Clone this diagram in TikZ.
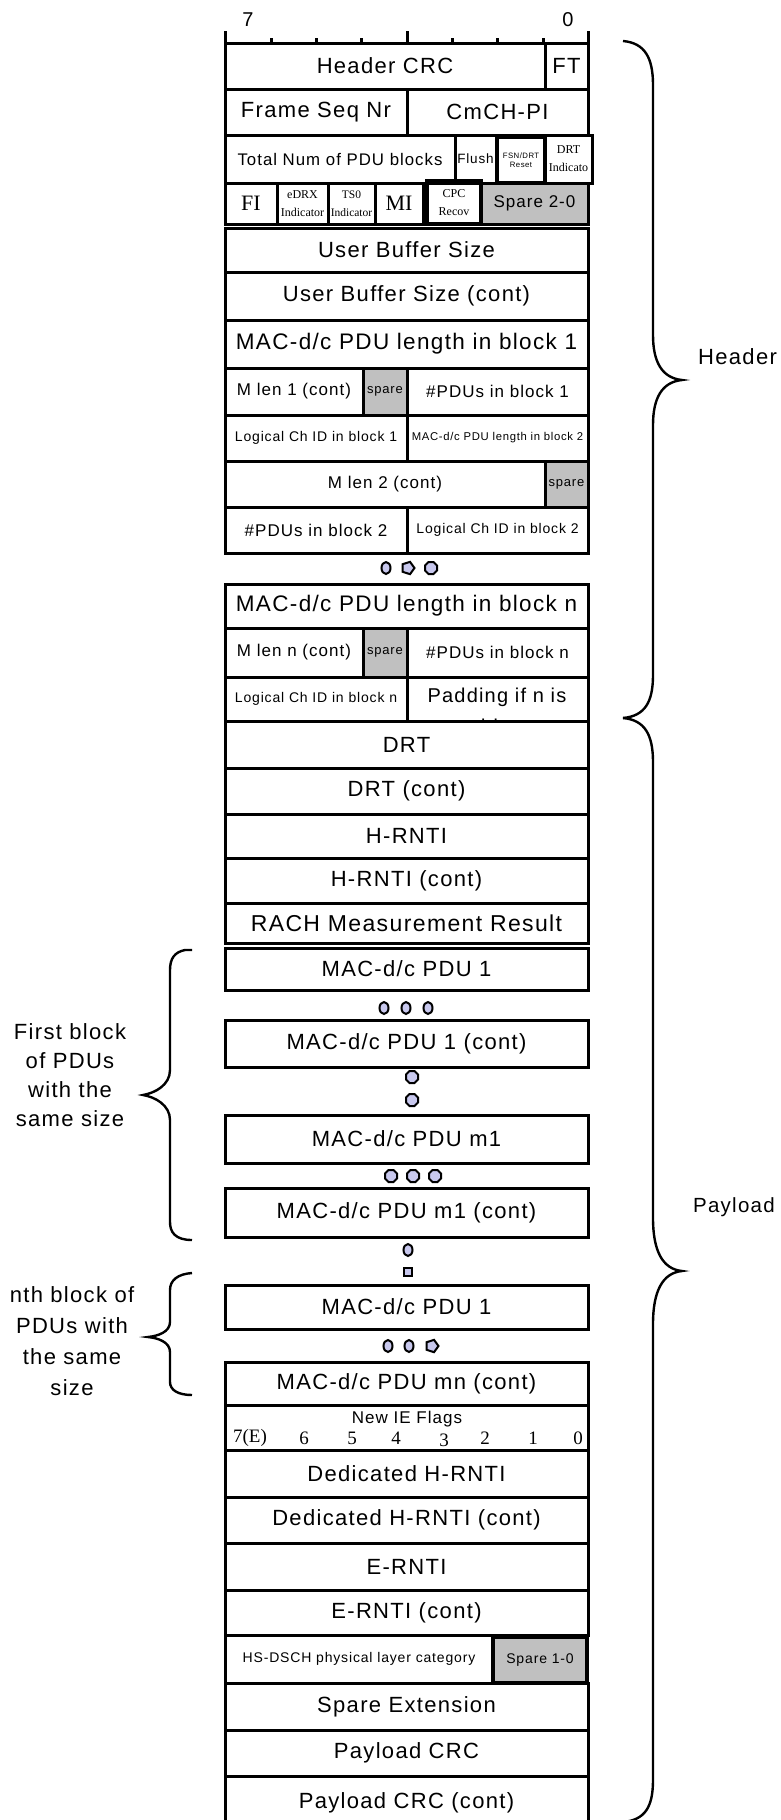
\documentclass[tikz,border=0pt]{standalone}
\usepackage{fontspec}
\setmainfont{Liberation Sans}[LetterSpace=6]
\newfontfamily\tms{Liberation Serif}
\usetikzlibrary{shapes.geometric}
\definecolor{spg}{RGB}{192,192,192}
\definecolor{dotc}{RGB}{200,200,238}
\newcommand{\cellnode}[7]{\node[cell,#1,minimum width={(#5-#3)*1pt},minimum height={(#6-#4)*1pt}] (#2) at ({(#3+#5)/2},{(#4+#6)/2}) {#7};}
\tikzset{
  fs/.style 2 args={font=\fontsize{#1}{#2}\selectfont},
  tm/.style 2 args={font=\tms\fontsize{#1}{#2}\selectfont},
  cell/.style={draw, line width=3pt, inner sep=0pt, outer sep=0pt, align=center, fs={22}{26}},
  thickcell/.style={line width=4pt},
  grayc/.style={fill=spg},
  dotbase/.style={draw, line width=2pt, fill=dotc, inner sep=0pt},
  dO/.style={dotbase, ellipse, minimum width=9pt, minimum height=12pt},
  dX/.style={dotbase, regular polygon, regular polygon sides=8, minimum size=13pt},
  dD/.style={dotbase, regular polygon, regular polygon sides=5, shape border rotate=-90, minimum size=13pt},
  dS/.style={dotbase, rectangle, minimum size=8pt},
  brc/.style={line width=2.4pt},
  rul/.style={line width=3pt},
  lbl/.style={inner sep=0pt, align=center}
}
\begin{document}
\begin{tikzpicture}[x=1pt,y=-1pt]
\useasboundingbox (0,0) rectangle (781,1820);
\clip (0,0) rectangle (781,1820);
\fill[white] (0,0) rectangle (781,1820);

% bit ruler
\node[lbl, fs={20}{24}] (b7) at (248,20) {7};
\node[lbl, fs={20}{24}] (b0) at (568,20) {0};
\foreach \tx in {225,407,588} {\draw[rul] (\tx,31) -- (\tx,43);}
\foreach \tx in {271,316,361,452,497,543} {\draw[rul] (\tx,38) -- (\tx,43);}

% header rows
\cellnode{}{hcrc}{225}{43}{545}{89}{Header CRC}
\cellnode{}{ft}{545}{43}{588}{89}{FT}
\cellnode{}{fsnr}{225}{89}{407}{135}{Frame Seq Nr}
\cellnode{}{cmch}{407}{89}{588}{135}{CmCH-PI}
\cellnode{fs={16.8}{20}}{tnum}{225}{135}{455}{183}{Total Num of PDU blocks}
\cellnode{fs={13.5}{16}}{flush}{455}{135}{496}{183}{Flush}
\cellnode{fs={7.8}{9}, thickcell}{fsndrt}{497}{137}{545}{183}{FSN/DRT\\Reset}
\cellnode{tm={12}{18}}{drti}{545}{135}{592}{183}{DRT\\Indicato}
\cellnode{tm={22}{24}}{fi}{225}{183}{277}{224}{FI}
\cellnode{tm={12}{18}}{edrx}{277}{183}{328}{224}{eDRX\\Indicator}
\cellnode{tm={11.5}{18}}{tso}{328}{183}{375}{224}{TS0\\Indicator}
\cellnode{tm={22}{24}}{mi}{375}{183}{423}{224}{MI}
\cellnode{tm={12}{18}, thickcell}{cpc}{427}{181}{481}{224}{CPC\\Recov}
\cellnode{fs={17}{20}, grayc}{sp20}{481}{183}{588}{224}{Spare 2-0}
\cellnode{}{ubs}{225}{228}{588}{272}{User Buffer Size}
\cellnode{}{ubsc}{225}{272}{588}{320}{User Buffer Size (cont)}
\cellnode{fs={22.5}{26}}{ml1}{225}{320}{588}{368}{MAC-d/c PDU length in block 1}
\cellnode{fs={17}{20}}{mlen1}{225}{368}{363}{415}{M len 1 (cont)}
\cellnode{fs={13}{15}, grayc}{sp1}{363}{368}{407}{415}{spare}
\cellnode{fs={17}{20}}{npdu1}{407}{368}{588}{415}{\#PDUs in block 1}
\cellnode{fs={14}{16}}{lch1}{225}{415}{407}{461}{Logical Ch ID in block 1}
\cellnode{fs={11.3}{13}}{ml2}{407}{415}{588}{461}{MAC-d/c PDU length in block 2}
\cellnode{fs={17}{20}}{mlen2}{225}{461}{545}{507}{M len 2 (cont)}
\cellnode{fs={13}{15}, grayc}{sp2}{545}{461}{588}{507}{spare}
\cellnode{fs={17}{20}}{npdu2}{225}{507}{407}{553}{\#PDUs in block 2}
\cellnode{fs={14}{16}}{lch2}{407}{507}{588}{553}{Logical Ch ID in block 2}

\node[dO] (a1) at (386,568) {};
\node[dD] (a2) at (408,568) {};
\node[dX] (a3) at (431,568) {};

\cellnode{fs={22.5}{26}}{mln}{225}{584}{588}{628}{MAC-d/c PDU length in block n}
\cellnode{fs={17}{20}}{mlenn}{225}{628}{363}{677}{M len n (cont)}
\cellnode{fs={13}{15}, grayc}{spn}{363}{628}{407}{677}{spare}
\cellnode{fs={17}{20}}{npdun}{407}{628}{588}{677}{\#PDUs in block n}
\cellnode{fs={14}{16}}{lchn}{225}{677}{407}{721}{Logical Ch ID in block n}
\begin{scope}
\clip (407,677) rectangle (588,721);
\node[lbl, fs={20}{24}] (padt) at (497,697) {Padding if n is};
\node[lbl, fs={20}{24}] (padu) at (480,726) {odd};
\end{scope}
\cellnode{}{pad}{407}{677}{588}{721}{}

% payload rows
\cellnode{}{drt}{225}{721}{588}{768}{DRT}
\cellnode{}{drtc}{225}{768}{588}{814}{DRT (cont)}
\cellnode{}{hr}{225}{814}{588}{858}{H-RNTI}
\cellnode{}{hrc}{225}{858}{588}{903}{H-RNTI (cont)}
\cellnode{fs={23}{26}}{rach}{225}{903}{588}{943}{RACH Measurement Result}
\cellnode{}{p1}{225}{948}{588}{990}{MAC-d/c PDU 1}
\node[dO] (b1) at (384,1008) {};
\node[dO] (b2) at (406,1008) {};
\node[dO] (b3) at (428,1008) {};
\cellnode{}{p1c}{225}{1020}{588}{1067}{MAC-d/c PDU 1 (cont)}
\node[dX] (c1) at (412,1077) {};
\node[dX] (c2) at (412,1100) {};
\cellnode{}{pm1}{225}{1115}{588}{1163}{MAC-d/c PDU m1}
\node[dX] (e1) at (391,1176) {};
\node[dX] (e2) at (413,1176) {};
\node[dX] (e3) at (435,1176) {};
\cellnode{}{pm1c}{225}{1188}{588}{1237}{MAC-d/c PDU m1 (cont)}
\node[dO] (g1) at (408,1250) {};
\node[dS] (g2) at (408,1272) {};
\cellnode{}{pn1}{225}{1285}{588}{1329}{MAC-d/c PDU 1}
\node[dO] (h1) at (388,1346) {};
\node[dO] (h2) at (409,1346) {};
\node[dD] (h3) at (432,1346) {};
\cellnode{}{pmnc}{225}{1362}{588}{1405}{MAC-d/c PDU mn (cont)}
\cellnode{}{nief}{225}{1405}{588}{1450}{}
\node[lbl, fs={17}{20}] (niet) at (407,1419) {New IE Flags};
\node[lbl, tm={19}{22}] (n7) at (250,1438) {7(E)};
\node[lbl, tm={19}{22}] (n6) at (304,1438) {6};
\node[lbl, tm={19}{22}] (n5) at (352,1438) {5};
\node[lbl, tm={19}{22}] (n4) at (396,1438) {4};
\node[lbl, tm={19}{22}] (n3) at (444,1440) {3};
\node[lbl, tm={19}{22}] (n2) at (485,1438) {2};
\node[lbl, tm={19}{22}] (n1) at (533,1438) {1};
\node[lbl, tm={19}{22}] (n0) at (578,1438) {0};
\cellnode{}{dh}{225}{1450}{588}{1497}{Dedicated H-RNTI}
\cellnode{}{dhc}{225}{1497}{588}{1543}{Dedicated H-RNTI (cont)}
\cellnode{}{er}{225}{1543}{588}{1590}{E-RNTI}
\cellnode{}{erc}{225}{1590}{588}{1635}{E-RNTI (cont)}
\cellnode{fs={14}{16}}{hs}{225}{1635}{493}{1683}{HS-DSCH physical layer category}
\cellnode{fs={14}{16}, grayc, thickcell}{sp10}{493}{1637}{587}{1683}{Spare 1-0}
\cellnode{}{spx}{225}{1683}{588}{1730}{Spare Extension}
\cellnode{}{pcrc}{225}{1730}{588}{1776}{Payload CRC}
\cellnode{}{pcrcc}{225}{1776}{588}{1830}{Payload CRC (cont)}

% right braces
\draw[brc] (623,41) .. controls (645,43) and (653,58) .. (653,85) -- (653,335)
  .. controls (653,362) and (662,378) .. (682,380)
  .. controls (662,382) and (653,398) .. (653,425) -- (653,675)
  .. controls (653,702) and (645,716) .. (623,718);
\draw[brc] (623,718) .. controls (645,720) and (653,735) .. (653,762) -- (653,1218)
  .. controls (653,1250) and (662,1269) .. (682,1271)
  .. controls (662,1273) and (653,1292) .. (653,1324) -- (653,1780)
  .. controls (653,1807) and (645,1820) .. (623,1822);
\node[lbl, fs={22}{26}, anchor=west] (hdr) at (698,357) {Header};
\node[lbl, fs={20.5}{24}, anchor=west] (pld) at (693,1207) {Payload};

% left braces
\draw[brc] (192,950) -- (185,950) .. controls (175,952) and (170,958) .. (170,970) -- (170,1070)
  .. controls (170,1085) and (155,1093) .. (143,1095)
  .. controls (155,1097) and (170,1105) .. (170,1120) -- (170,1222)
  .. controls (170,1232) and (175,1240) .. (192,1240);
\draw[brc] (192,1273) .. controls (178,1274) and (170,1280) .. (170,1290) -- (170,1322)
  .. controls (170,1332) and (158,1336) .. (148,1337)
  .. controls (158,1338) and (170,1342) .. (170,1352) -- (170,1382)
  .. controls (170,1390) and (178,1395) .. (192,1395);
\node[lbl, fs={22}{29}] (fb) at (70,1075) {First block\\of PDUs\\with the\\same size};
\node[lbl, fs={22}{31}] (nb) at (72,1341) {nth block of\\PDUs with\\the same\\size};
\end{tikzpicture}
\end{document}
